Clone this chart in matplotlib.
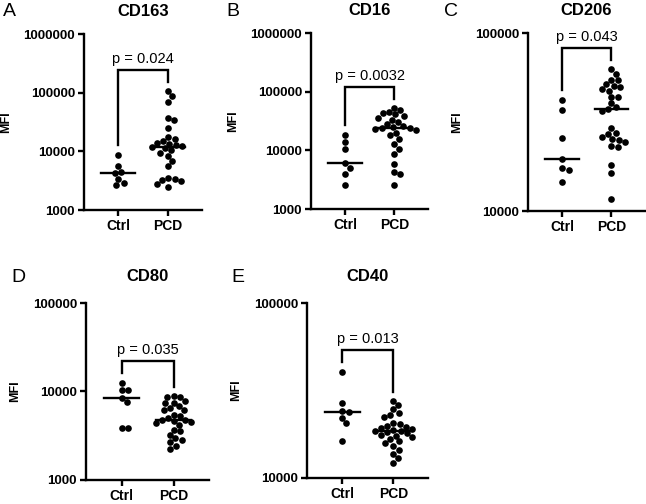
import numpy as np
import matplotlib.pyplot as plt

plt.rcParams['font.family'] = ['Liberation Sans', 'DejaVu Sans']

groups = ['Ctrl', 'PCD']
titles = ['CD163', 'CD16', 'CD206', 'CD80', 'CD40']
letters = ['A', 'B', 'C', 'D', 'E']
pvals = ['p = 0.024', 'p = 0.0032', 'p = 0.043', 'p = 0.035', 'p = 0.013']

# MFI values
cd163_ctrl = [8750, 5620, 4490, 4270, 3370, 2920, 2670]
cd163_pcd = [106700, 86600, 70300, 37000, 33700, 25000, 17500, 16200, 14800,
             13900, 13500, 12600, 12200, 11850, 11250, 10400, 9370, 8220,
             6750, 5550, 3510, 3370, 3200, 3080, 2810, 2470]

cd16_ctrl = [18500, 13900, 10400, 6000, 5000, 3900, 2600]
cd16_pcd = [53400, 48100, 45600, 43300, 41100, 39000, 36100, 33300, 30400,
            27700, 26000, 25000, 24300, 24000, 23100, 21900, 19700, 18000,
            15800, 13000, 10700, 8780, 5930, 4270, 3900, 2530]

cd206_ctrl = [42100, 36950, 25800, 19500, 17500, 17100, 14580]
cd206_pcd = [62700, 58900, 54500, 54100, 51800, 50500, 49600, 48300, 47500,
             43900, 43500, 40300, 38200, 37600, 36300, 29100, 27500, 27000,
             25900, 25300, 25000, 24500, 23100, 22900, 18100, 16400, 11700]

cd80_ctrl = [12570, 10400, 10300, 8380, 7550, 3860, 3820]
cd80_pcd = [8935, 8780, 8630, 7710, 7510, 7385, 6770, 6490, 6210, 6100,
            5450, 5320, 5000, 4780, 4710, 4590, 4470, 4400, 4210, 3700,
            3540, 3245, 2980, 2850, 2660, 2440, 2240]

cd40_ctrl = [40500, 26700, 24200, 23700, 21960, 20560, 16170]
cd40_pcd = [27700, 26150, 24700, 23440, 22940, 22240, 20560, 20290, 19860,
            19680, 19420, 19080, 18840, 18660, 18440, 18200, 18030, 17650,
            17420, 17110, 16670, 16170, 15820, 15140, 14490, 13750, 12990,
            12170]

panels = [(cd163_ctrl, cd163_pcd), (cd16_ctrl, cd16_pcd), (cd206_ctrl, cd206_pcd),
          (cd80_ctrl, cd80_pcd), (cd40_ctrl, cd40_pcd)]
ylims = [(1e3, 1e6), (1e3, 1e6), (1e4, 1e5), (1e3, 1e5), (1e4, 1e5)]

W, H = 646, 504
# axes boxes in pixels: left, top, right, bottom
boxes = [(84, 34, 202, 210), (311, 33, 428, 209), (528, 33, 645, 211),
         (86, 303, 209, 480), (307, 303, 428, 478)]
letter_pos = [(3, 12), (226, 12), (444, 12), (11, 277), (231, 277)]


def swarm(ax, xc, vals, dot):
    # beeswarm in pixel space so the dots sit side by side
    pts = ax.transData.transform(np.column_stack([np.full(len(vals), xc), vals]))
    px_per_unit = ax.transData.transform((1, 1))[0] - ax.transData.transform((0, 1))[0]
    order = np.argsort(-pts[:, 1])
    placed = []
    xs = np.zeros(len(vals))
    for i in order:
        y = pts[i, 1]
        for k in range(200):
            off = ((k + 1) // 2) * 0.5 * (1 if k % 2 else -1)
            ok = all((off - po) ** 2 + (y - py) ** 2 >= dot ** 2 for po, py in placed)
            if ok:
                break
        placed.append((off, y))
        xs[i] = xc + off / px_per_unit
    return xs


def frac(ax, v):
    lo, hi = ax.get_ylim()
    return (np.log10(v) - np.log10(lo)) / (np.log10(hi) - np.log10(lo))


fig = plt.figure(figsize=(W / 100, H / 100), dpi=100)

for i, (ctrl, pcd) in enumerate(panels):
    l, t, r, b = boxes[i]
    ax = fig.add_axes([l / W, 1 - b / H, (r - l) / W, (b - t) / H])
    ax.set_yscale('log')
    ax.set_ylim(*ylims[i])
    ax.set_xlim(-0.69, 1.68)
    for s in ['top', 'right']:
        ax.spines[s].set_visible(False)
    for s in ['left', 'bottom']:
        ax.spines[s].set_linewidth(1.7)

    for xc, vals in enumerate([ctrl, pcd]):
        vals = np.array(vals, dtype=float)
        xs = swarm(ax, xc, vals, 6.4)
        ax.scatter(xs, vals, s=23, color='black', linewidths=0, zorder=3)
        med = np.median(vals)
        ax.plot([xc - 0.34, xc + 0.34], [med, med], color='black', lw=1.7, zorder=4)

    # significance bracket
    f1 = frac(ax, max(ctrl)) + 0.055
    f2 = frac(ax, max(pcd)) + 0.05
    top = max(f1, f2) + 0.07
    tr = ax.get_xaxis_transform()
    ax.plot([0, 0, 1, 1], [f1, top, top, f2], color='black', lw=1.7,
            transform=tr, clip_on=False, solid_joinstyle='miter')
    ax.text(0.5, top + 0.022, pvals[i], transform=tr, ha='center', va='bottom',
            fontsize=10.5)

    lo, hi = ylims[i]
    ticks = [10 ** k for k in range(int(np.log10(lo)), int(np.log10(hi)) + 1)]
    ax.set_yticks(ticks)
    ax.set_yticklabels([str(int(v)) for v in ticks])
    ax.minorticks_off()
    ax.set_xticks([0, 1])
    ax.set_xticklabels(groups)
    ax.tick_params(axis='both', width=1.7, length=4.5, pad=2)
    ax.tick_params(axis='y', labelsize=9.5)
    ax.tick_params(axis='x', labelsize=10)
    for lab in ax.get_xticklabels() + ax.get_yticklabels():
        lab.set_fontweight('bold')
    ax.set_ylabel('MFI', fontsize=9, fontweight='bold', labelpad=8)
    ax.set_title(titles[i], fontsize=12, fontweight='bold', pad=13 if i < 3 else 16)

    lx, ly = letter_pos[i]
    fig.text(lx / W, 1 - ly / H, letters[i], fontsize=14, ha='left', va='center')

fig.savefig('out.png', dpi=100)
